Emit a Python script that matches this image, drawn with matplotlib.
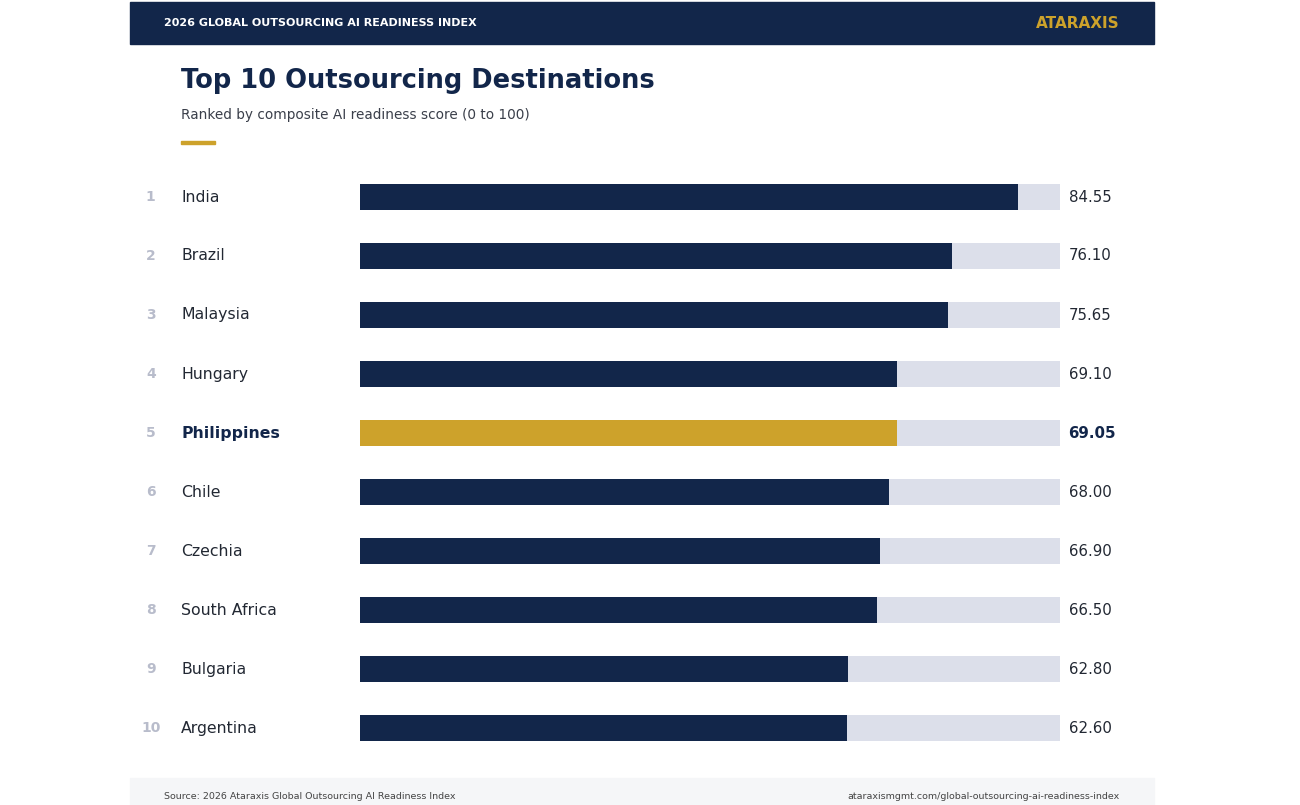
import matplotlib.pyplot as plt
import matplotlib.patches as mpatches

countries = ['India', 'Brazil', 'Malaysia', 'Hungary', 'Philippines',
             'Chile', 'Czechia', 'South Africa', 'Bulgaria', 'Argentina']
scores = [84.55, 76.10, 75.65, 69.10, 69.05, 68.00, 66.90, 66.50, 62.80, 62.60]
highlight = 'Philippines'
scale_max = 90

navy = '#12264a'
gold = '#cda22b'
track = '#dcdfea'

W, H = 1300, 805
fig = plt.figure(figsize=(13, 8.05), dpi=100)

def fx(px):
    return px / W

def fy(py):
    return 1 - py / H

# header band
fig.patches.append(mpatches.Rectangle((fx(130), fy(44)), fx(1024), 42 / H,
                                      transform=fig.transFigure, color=navy, zorder=0))
fig.text(fx(164), fy(23), '2026 GLOBAL OUTSOURCING AI READINESS INDEX', color='white',
         fontsize=8, fontweight='bold', va='center')
fig.text(fx(1120), fy(23), 'ATARAXIS', color=gold, fontsize=11, fontweight='bold',
         va='center', ha='right')

# footer band
fig.patches.append(mpatches.Rectangle((fx(130), 0), fx(1024), 27 / H,
                                      transform=fig.transFigure, color='#f5f6f8', zorder=0))
fig.text(fx(164), fy(796), 'Source: 2026 Ataraxis Global Outsourcing AI Readiness Index',
         color='#444444', fontsize=6.8, va='center')
fig.text(fx(1120), fy(796), 'ataraxismgmt.com/global-outsourcing-ai-readiness-index',
         color='#444444', fontsize=6.8, va='center', ha='right')

# titles
fig.text(fx(181), fy(81), 'Top 10 Outsourcing Destinations', color=navy,
         fontsize=18.5, fontweight='bold', va='center')
fig.text(fx(181), fy(115), 'Ranked by composite AI readiness score (0 to 100)',
         color='#3a3f4a', fontsize=9.8, va='center')
fig.patches.append(mpatches.Rectangle((fx(181), fy(144)), fx(34), 3 / H,
                                      transform=fig.transFigure, color=gold))

# bars
ax = fig.add_axes([fx(360), fy(757.5), fx(700), 590 / H])
ax.set_xlim(0, scale_max)
ax.set_ylim(len(countries) - 0.5, -0.5)
ax.axis('off')

rows = list(range(len(countries)))
ax.barh(rows, [scale_max] * len(rows), height=0.44, color=track)
colors = [gold if c == highlight else navy for c in countries]
ax.barh(rows, scores, height=0.44, color=colors)

for i, (c, s) in enumerate(zip(countries, scores)):
    hl = c == highlight
    ax.text(-26.9, i, str(i + 1), ha='center', va='center', fontsize=10,
            color='#b8bccb', fontweight='bold', clip_on=False)
    ax.text(-23.0, i, c, ha='left', va='center', fontsize=11.3, color=navy if hl else '#222833',
            fontweight='bold' if hl else 'normal', clip_on=False)
    ax.text(91.1, i, f'{s:.2f}', ha='left', va='center', fontsize=10.8, color=navy if hl else '#222833',
            fontweight='bold' if hl else 'normal', clip_on=False)

fig.savefig('out.png', dpi=100)
